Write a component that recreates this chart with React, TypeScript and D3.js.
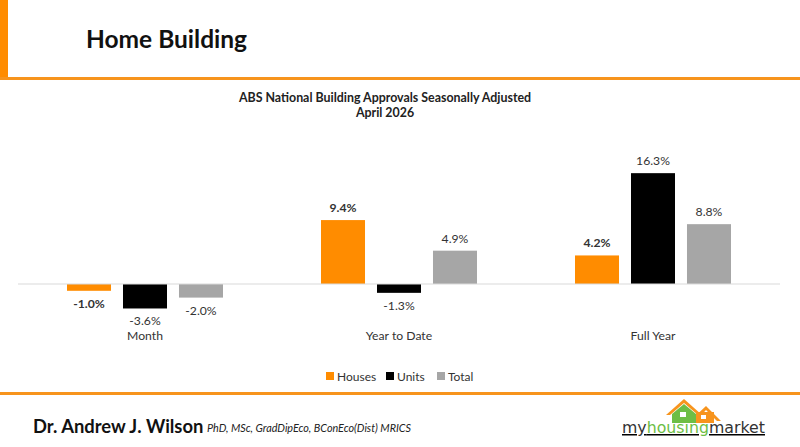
import * as d3 from 'd3';

const categories = ['Month', 'Year to Date', 'Full Year'];
const seriesNames = ['Houses', 'Units', 'Total'];
const houses = [-1.0, 9.4, 4.2];
const units = [-3.6, -1.3, 16.3];
const total = [-2.0, 4.9, 8.8];
const seriesColors = ['#FF8C00', '#000000', '#A6A6A6'];
const boldLabel = [true, false, false];

const FONT = 'Lato, "Open Sans", sans-serif';
const W = 800;
const H = 447;

export default function App() {
  const series = [houses, units, total];

  const x0 = d3.scaleBand<string>().domain(categories).range([18, 780]).padding(0);
  const x1 = d3
    .scaleBand<string>()
    .domain(seriesNames)
    .range([49, 205])
    .paddingInner(0.214);
  const y = d3.scaleLinear().domain([-5, 20]).range([318, 148]);
  const y0 = y(0);

  const bars = categories.flatMap((cat, ci) =>
    series.map((vals, si) => ({ cat, ci, si, v: vals[ci] }))
  );

  return (
    <svg
      width={W}
      height={H}
      viewBox={`0 0 ${W} ${H}`}
      style={{ position: 'absolute', left: 0, top: 0, background: '#fff', fontFamily: FONT }}
    >
      <style>{`body{margin:0}`}</style>
      {/* header frame */}
      <rect x={0} y={0} width={8} height={80} fill="#FF8C00" />
      <rect x={0} y={77} width={W} height={3} fill="#F7941D" />
      <text x={86} y={48} fontSize={24.5} fontWeight={700} fill="#111">
        Home Building
      </text>

      {/* chart title */}
      <text x={385} y={102} textAnchor="middle" fontSize={12.4} fontWeight={700} fill="#222">
        ABS National Building Approvals Seasonally Adjusted
      </text>
      <text x={385} y={117} textAnchor="middle" fontSize={12.4} fontWeight={700} fill="#222">
        April 2026
      </text>

      {/* bars */}
      {bars.map((b) => {
        const bx = (x0(b.cat) ?? 0) + (x1(seriesNames[b.si]) ?? 0);
        const top = Math.min(y(b.v), y0);
        const h = Math.abs(y(b.v) - y0);
        return (
          <rect
            key={`${b.ci}-${b.si}`}
            x={bx}
            y={top}
            width={x1.bandwidth()}
            height={h}
            fill={seriesColors[b.si]}
          />
        );
      })}

      {/* zero axis */}
      <line x1={18} x2={780} y1={y0} y2={y0} stroke="#D9D9D9" strokeWidth={1.2} />

      {/* value labels */}
      {bars.map((b) => {
        const bx = (x0(b.cat) ?? 0) + (x1(seriesNames[b.si]) ?? 0) + x1.bandwidth() / 2;
        const ly = b.v >= 0 ? y(b.v) - 8 : y(b.v) + 17;
        return (
          <text
            key={`l-${b.ci}-${b.si}`}
            x={bx}
            y={ly}
            textAnchor="middle"
            fontSize={12.2}
            fontWeight={boldLabel[b.si] ? 700 : 400}
            fill="#333"
          >
            {`${b.v.toFixed(1)}%`}
          </text>
        );
      })}

      {/* category labels */}
      {categories.map((c) => (
        <text
          key={c}
          x={(x0(c) ?? 0) + x0.bandwidth() / 2}
          y={340}
          textAnchor="middle"
          fontSize={12.2}
          fill="#333"
        >
          {c}
        </text>
      ))}

      {/* legend */}
      {seriesNames.map((s, i) => {
        const lx = [326, 386, 437][i];
        return (
          <g key={s}>
            <rect x={lx} y={372} width={8} height={8} fill={seriesColors[i]} />
            <text x={lx + 11} y={381} fontSize={12} fill="#333">
              {s}
            </text>
          </g>
        );
      })}

      {/* footer */}
      <rect x={0} y={392} width={W} height={3} fill="#F7941D" />
      <text x={33} y={433} fontSize={18.4} fontWeight={700} fill="#111">
        Dr. Andrew J. Wilson
      </text>
      <text x={207} y={432} fontSize={10.8} fontStyle="italic" fill="#222">
        PhD, MSc, GradDipEco, BConEco(Dist) MRICS
      </text>

      {/* logo */}
      <g>
        <path d="M688,423 L706,406 L721,421 L717,421 L706,410 L694,423 Z" fill="#F7941D" />
        <rect x={696} y={412} width={18} height={11} fill="#F7941D" />
        <rect x={701} y={415} width={5} height={4} fill="#fff" />
        <path d="M666,415 L684,399 L702,415 L698,415 L684,403 L670,415 Z" fill="#F7941D" />
        <path d="M672,414 L684,404 L696,414 L696,423 L672,423 Z" fill="#6DBE45" />
        <rect x={680} y={412} width={6} height={5} fill="#fff" />
        <text
          x={622}
          y={433}
          fontSize={15}
          fontFamily='"DejaVu Sans", sans-serif'
          textLength={143}
          lengthAdjust="spacingAndGlyphs"
          textDecoration="underline"
        >
          <tspan fill="#333">my</tspan>
          <tspan fill="#6DBE45">housing</tspan>
          <tspan fill="#333">market</tspan>
        </text>
      </g>
    </svg>
  );
}
